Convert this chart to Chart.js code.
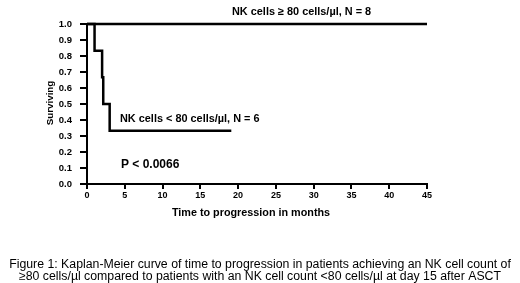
<!DOCTYPE html>
<html><head><meta charset="utf-8">
<script src="https://cdn.jsdelivr.net/npm/chart.js@4"></script>
<style>html,body{margin:0;padding:0;background:#fff}#c{display:block}</style>
</head>
<body>
<canvas id="c" width="520" height="283"></canvas>
<script>
// Kaplan-Meier data (time in months, proportion surviving)
const timesHigh = [0, 45];
const survHigh  = [1.0, 1.0];
const timesLow  = [0, 1, 2, 2.15, 3, 19.1];
const survLow   = [1.0, 0.833, 0.667, 0.5, 0.333, 0.333];

const xTicks = [0, 5, 10, 15, 20, 25, 30, 35, 40, 45];
const yTicks = [0, 0.1, 0.2, 0.3, 0.4, 0.5, 0.6, 0.7, 0.8, 0.9, 1.0];
const yTickLabels = ['0.0','0.1','0.2','0.3','0.4','0.5','0.6','0.7','0.8','0.9','1.0'];

const labelHigh = 'NK cells \u2265 80 cells/\u00b5l, N = 8';
const labelLow  = 'NK cells < 80 cells/\u00b5l, N = 6';
const pValue    = 'P < 0.0066';
const xTitle    = 'Time to progression in months';
const yTitle    = 'Surviving';
const caption   = [
  'Figure 1: Kaplan-Meier curve of time to progression in patients achieving an NK cell count of',
  '\u226580 cells/\u00b5l compared to patients with an NK cell count <80 cells/\u00b5l at day 15 after ASCT'
];

const FONT = '"Liberation Sans", Arial, sans-serif';

const textPlugin = {
  id: 'texts',
  afterDraw(chart) {
    const c = chart.ctx;
    c.save();
    c.fillStyle = '#000';
    c.textBaseline = 'middle';
    c.font = 'bold 10.9px ' + FONT;
    c.textAlign = 'left';
    c.fillText(labelHigh, 232, 12);
    c.fillText(labelLow, 120, 119);
    c.font = 'bold 12px ' + FONT;
    c.fillText(pValue, 121, 165);
    c.font = 'bold 10.8px ' + FONT;
    c.textAlign = 'center';
    c.fillText(xTitle, 251, 213);
    c.save();
    c.translate(50, 103);
    c.rotate(-Math.PI / 2);
    c.font = 'bold 9.8px ' + FONT;
    c.fillText(yTitle, 0, 0);
    c.restore();
    c.font = '12.3px ' + FONT;
    c.fillText(caption[0], 260, 265);
    c.fillText(caption[1], 260, 277);
    c.restore();
  }
};

const toPts = (ts, vs) => ts.map((t, i) => ({x: t, y: vs[i]}));

new Chart(document.getElementById('c'), {
  type: 'line',
  data: {
    datasets: [
      { data: toPts(timesHigh, survHigh), stepped: 'before', borderColor: '#000', borderWidth: 2.5,
        pointRadius: 0, fill: false, clip: false },
      { data: toPts(timesLow, survLow), stepped: 'before', borderColor: '#000', borderWidth: 2.5,
        pointRadius: 0, fill: false, clip: false }
    ]
  },
  options: {
    responsive: false,
    animation: false,
    events: [],
    layout: { padding: { top: 24, right: 93, left: 0, bottom: 0 } },
    plugins: { legend: { display: false }, tooltip: { enabled: false } },
    scales: {
      x: {
        type: 'linear', min: 0, max: 45,
        afterBuildTicks: s => { s.ticks = xTicks.map(v => ({ value: v })); },
        afterFit: s => { s.height = 99; },
        ticks: { color: '#000', font: { family: FONT, size: 9, weight: 'bold' }, padding: 1, maxRotation: 0, autoSkip: false },
        grid: { drawOnChartArea: false, tickLength: 5, color: '#000', lineWidth: 2 },
        border: { color: '#000', width: 2 }
      },
      y: {
        type: 'linear', min: 0, max: 1,
        afterBuildTicks: s => { s.ticks = yTicks.map(v => ({ value: v })); },
        afterFit: s => { s.width = 87; },
        ticks: { color: '#000', font: { family: FONT, size: 9.5, weight: 'bold' }, padding: 8, autoSkip: false,
                 callback: (v, i) => yTickLabels[i] },
        grid: { drawOnChartArea: false, tickLength: 7, color: '#000', lineWidth: 2 },
        border: { color: '#000', width: 2 }
      }
    }
  },
  plugins: [textPlugin]
});
</script>
</body></html>
